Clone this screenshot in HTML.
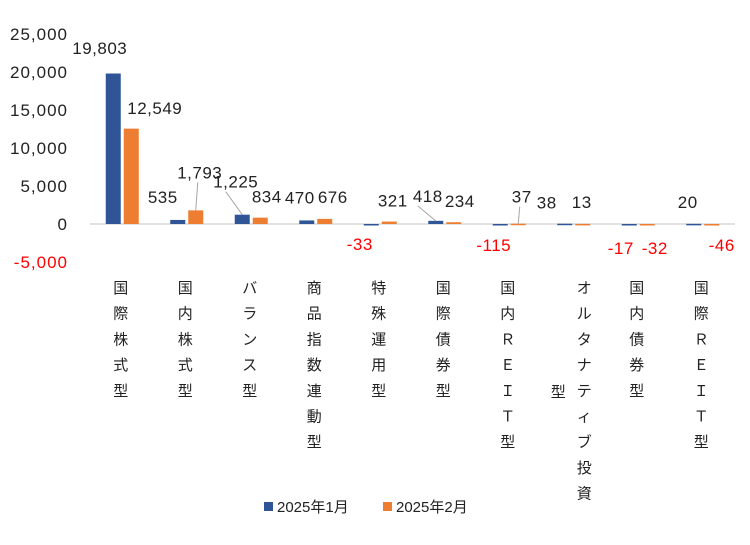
<!DOCTYPE html>
<html><head><meta charset="utf-8"><style>
body{margin:0;background:#fff;font-family:"Liberation Sans","Noto Sans CJK JP",sans-serif;}
svg text{font-family:"Liberation Sans","Noto Sans CJK JP",sans-serif;}
</style></head><body>
<svg id="c" width="750" height="540"></svg>
<script>
const categories=["国際株式型","国内株式型","バランス型","商品指数連動型","特殊運用型","国際債券型","国内ＲＥＩＴ型","オルタナティブ投資型","国内債券型","国際ＲＥＩＴ型"];
const jan=[19803,535,1225,470,-33,418,-115,38,-17,20];
const feb=[12549,1793,834,676,321,234,37,13,-32,-46];
const ticks=[25000,20000,15000,10000,5000,0,-5000];
const janLabelOff=[[-13.5,-19.5],[-15,-17],[-6.5,-27],[-7,-17],[-11.5,26],[-8,-19],[-6.5,27],[-18,-15],[-8.5,30],[-6,-16]];
const febLabelOff=[[23.5,-14.6],[4,-32],[6.5,-15],[8,-16],[3.5,-15],[6,-15],[3.5,-21],[-1,-16],[7.5,30],[10,27]];
const janLeader=[0,0,1,0,0,1,0,0,0,0];
const febLeader=[0,1,0,0,0,0,1,0,0,0];
const NS="http://www.w3.org/2000/svg";
const svg=document.getElementById('c');
const x0=90.5,cw=64.5,bw=15;
function y(v){return 224-v*0.0076;}
function xc(i){return x0+cw*(i+0.5);}
function mk(t,a){const e=document.createElementNS(NS,t);for(const k in a)e.setAttribute(k,a[k]);svg.appendChild(e);return e;}
function fmt(v){return v<0?'-'+Math.abs(v).toLocaleString('en-US'):v.toLocaleString('en-US');}
ticks.forEach(t=>{
 const e=mk('text',{x:68,y:y(t)+6,'text-anchor':'end','font-size':17,'letter-spacing':1,fill:t<0?'#ff0000':'#222'});
 e.textContent=fmt(t);
 
 
});
const ax=mk('line',{x1:90,x2:735,y1:y(0),y2:y(0),stroke:'#d9d9d9','stroke-width':1.5});


categories.forEach((c,i)=>{
 [[jan,'#2f5597',-bw-2,janLabelOff,janLeader,'jan'],[feb,'#ed7d31',1,febLabelOff,febLeader,'feb']].forEach(([arr,col,dx,off,lead,nm])=>{
  const v=arr[i],bx=xc(i)+dx,top=Math.min(y(v),y(0)),h=Math.max(Math.abs(y(v)-y(0)),1.5);
  const r=mk('rect',{x:bx,y:top,width:bw,height:h,fill:col});
  
  
  const bc=bx+bw/2;
  const base=v<0?y(0):y(v);
  const lx=bc+off[i][0],ly=base+off[i][1];
  if(lead[i]){
   const l=mk('line',{x1:lx+(nm==='jan'?-10:-2),y1:ly+4,x2:bc,y2:y(v),stroke:'#a6a6a6','stroke-width':1});
   
   
  }
  const t=mk('text',{x:lx,y:ly,'text-anchor':'middle','font-size':17,'letter-spacing':0.5,fill:v<0?'#ff0000':'#222'});
  t.textContent=fmt(v);
  
  
 });
 const chars=[...c];
 let cx=xc(i)-2,col=chars;
 if(chars.length>9){col=chars.slice(0,9);
  const t2=mk('text',{x:cx-14,y:397,'text-anchor':'middle','font-size':15,fill:'#222'});t2.textContent=chars.slice(9).join('');
  
  
  cx+=12;}
 col.forEach((ch,k)=>{
  const t=mk('text',{x:cx,y:293+k*25.7,'text-anchor':'middle','font-size':15,fill:'#222'});
  t.textContent=ch;
  
  
 });
});
[[264,'#2f5597','2025年1月'],[383,'#ed7d31','2025年2月']].forEach(([lx,col,txt])=>{
 const r=mk('rect',{x:lx,y:502,width:9,height:9,fill:col});
 
 
 const t=mk('text',{x:lx+13,y:512,'font-size':15,fill:'#222'});t.textContent=txt;
 
 
});
</script>
</body></html>
